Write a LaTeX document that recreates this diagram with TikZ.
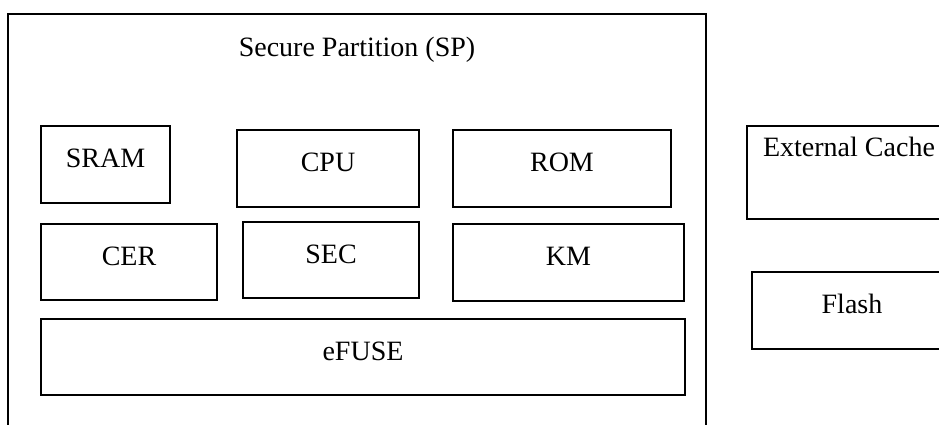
\documentclass[tikz,border=0pt]{standalone}
\usepackage{fontspec}
\setmainfont{Liberation Serif}
\tikzset{
    blk/.style={draw, line width=0.9pt, inner sep=0pt, text height=9.3pt, text depth=6pt,
        font=\fontsize{14}{16}\selectfont},
}
\begin{document}
\begin{tikzpicture}[x=0.5pt, y=-0.5pt]
            \useasboundingbox (0,0) rectangle (939,424);
            \clip (0,0) rectangle (939,424);
            \node[draw, line width=0.9pt, minimum width=349pt, minimum height=213pt] (sp) at (357,227) {};
            \node[font=\fontsize{14}{16}\selectfont] (title) at (357,50) {Secure Partition (SP)};

            \node[blk, minimum width=64.5pt, minimum height=38.5pt] (sram) at (105.5,164.5) {SRAM};
            \node[blk, minimum width=91pt, minimum height=38.5pt] (cpu) at (328,168.5) {CPU};
            \node[blk, minimum width=109pt, minimum height=38.5pt] (rom) at (562,168.5) {ROM};
            \node[blk, minimum width=88pt, minimum height=38pt] (cer) at (129,262) {CER};
            \node[blk, minimum width=88pt, minimum height=38pt] (sec) at (331,260) {SEC};
            \node[blk, minimum width=115.5pt, minimum height=38.5pt] (km) at (568.5,262.5) {KM};
            \node[blk, minimum width=322pt, minimum height=38pt] (efuse) at (363,357) {eFUSE};

            \node[blk, text depth=25pt, minimum width=102pt, minimum height=46.5pt] (cache) at (849,172.5) {External Cache};
            \node[blk, minimum width=100pt, minimum height=38.5pt] (flash) at (852,310.5) {Flash};
        \end{tikzpicture}
\end{document}
